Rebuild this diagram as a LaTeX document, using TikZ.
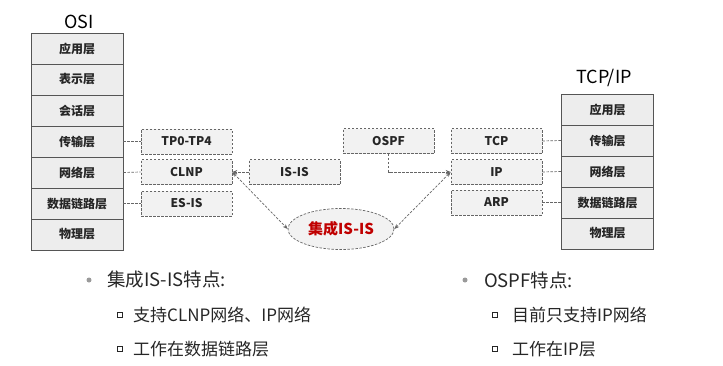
\documentclass[tikz,border=0pt]{standalone}
\usepackage{fontspec}
\setmainfont{Noto Sans CJK SC}
\usetikzlibrary{arrows.meta,calc,shapes.geometric}
\definecolor{layerfill}{HTML}{EDEDED}
\definecolor{layerdraw}{HTML}{555555}
\definecolor{boxfill}{HTML}{F2F2F2}
\definecolor{dashcol}{HTML}{666666}
\definecolor{isred}{HTML}{C00000}
\definecolor{txt}{HTML}{262626}
\definecolor{dotcol}{HTML}{9A9A9A}
\begin{document}
\begin{tikzpicture}[x=1pt,y=-1pt,
  layer/.style={draw=layerdraw,fill=layerfill,line width=0.7pt,minimum width=92pt,minimum height=31pt,inner sep=0pt,font=\bfseries\fontsize{12}{12}\selectfont,text=txt},
  proto/.style={draw=dashcol,fill=boxfill,dash pattern=on 2.5pt off 1.5pt,line width=0.7pt,minimum width=91pt,minimum height=25pt,inner sep=0pt,font=\bfseries\fontsize{12}{12}\selectfont,text=txt},
  link/.style={draw=dashcol,dash pattern=on 2.5pt off 1.5pt,line width=0.7pt},
  arr/.style={link,-{Stealth[length=5pt,width=4pt]}},
  darr/.style={link,{Stealth[length=5pt,width=4pt]}-{Stealth[length=5pt,width=4pt]}},
  title/.style={font=\fontsize{18}{18}\selectfont,text=black},
  bul/.style={font=\fontsize{18.5}{19}\selectfont,text=txt,anchor=west,inner sep=0pt},
  sub/.style={font=\fontsize{17}{17}\selectfont,text=txt,anchor=west,inner sep=0pt},
  sq/.style={draw=txt,line width=0.8pt,minimum size=5.5pt,inner sep=0pt},
  dot/.style={circle,fill=dotcol,minimum size=5pt,inner sep=0pt}
]
\useasboundingbox (0,0) rectangle (723,365);
\fill[white] (0,0) rectangle (723,365);

% OSI stack
\node[title] (osit) at (79,22) {OSI};
\node[layer] (o1) at (77,48.5) {应用层};
\node[layer] (o2) at (77,79.5) {表示层};
\node[layer] (o3) at (77,110.5) {会话层};
\node[layer] (o4) at (77,141.5) {传输层};
\node[layer] (o5) at (77,172.5) {网络层};
\node[layer] (o6) at (77,203.5) {数据链路层};
\node[layer] (o7) at (77,234.5) {物理层};

% TCP/IP stack
\node[title] (tcpt) at (604,78) {TCP/IP};
\node[layer] (t1) at (607.5,109.5) {应用层};
\node[layer] (t2) at (607.5,140.5) {传输层};
\node[layer] (t3) at (607.5,171.5) {网络层};
\node[layer] (t4) at (607.5,202.5) {数据链路层};
\node[layer] (t5) at (607.5,233.5) {物理层};

% protocol boxes
\node[proto] (tp) at (186.5,141.5) {TP0-TP4};
\node[proto] (clnp) at (186.5,172) {CLNP};
\node[proto] (esis) at (186.5,203.5) {ES-IS};
\node[proto] (isis) at (294.5,172) {IS-IS};
\node[proto] (ospf) at (388.5,141) {OSPF};
\node[proto] (tcp) at (496.5,141) {TCP};
\node[proto] (ip) at (496.5,172) {IP};
\node[proto] (arp) at (496.5,202.5) {ARP};

% integrated IS-IS ellipse
\node[draw=dashcol,fill=boxfill,dash pattern=on 2.5pt off 1.5pt,line width=0.7pt,ellipse,minimum width=106pt,minimum height=41pt,inner sep=0pt,text=isred,font=\bfseries\fontsize{15}{15}\selectfont] (int) at (341,229) {集成IS-IS};

% connectors
\draw[link] (o4.east) -- (tp.west);
\draw[link] (o5.east) -- (clnp.west);
\draw[link] (o6.east) -- (esis.west);
\draw[link] (tcp.east) -- (t2.west);
\draw[link] (ip.east) -- (t3.west);
\draw[link] (arp.east) -- (t4.west);
\draw[arr] (isis.west) -- (clnp.east);
\draw[arr] (ospf.south) |- (ip.west);
\draw[darr] (clnp.east) -- (int.west);
\draw[darr] (ip.west) -- (int.east);

% bullets
\node[dot] (d1) at (89,280) {};
\node[bul] (b1) at (107,280) {集成IS-IS特点:};
\node[sq] (s1) at (120,315) {};
\node[sub] (b1a) at (133,315) {支持CLNP网络、IP网络};
\node[sq] (s2) at (120,349) {};
\node[sub] (b1b) at (133,349) {工作在数据链路层};

\node[dot] (d2) at (465,280) {};
\node[bul] (b2) at (484,280) {OSPF特点:};
\node[sq] (s3) at (495,315) {};
\node[sub] (b2a) at (512,315) {目前只支持IP网络};
\node[sq] (s4) at (495,349) {};
\node[sub] (b2b) at (512,349) {工作在IP层};
\end{tikzpicture}
\end{document}
